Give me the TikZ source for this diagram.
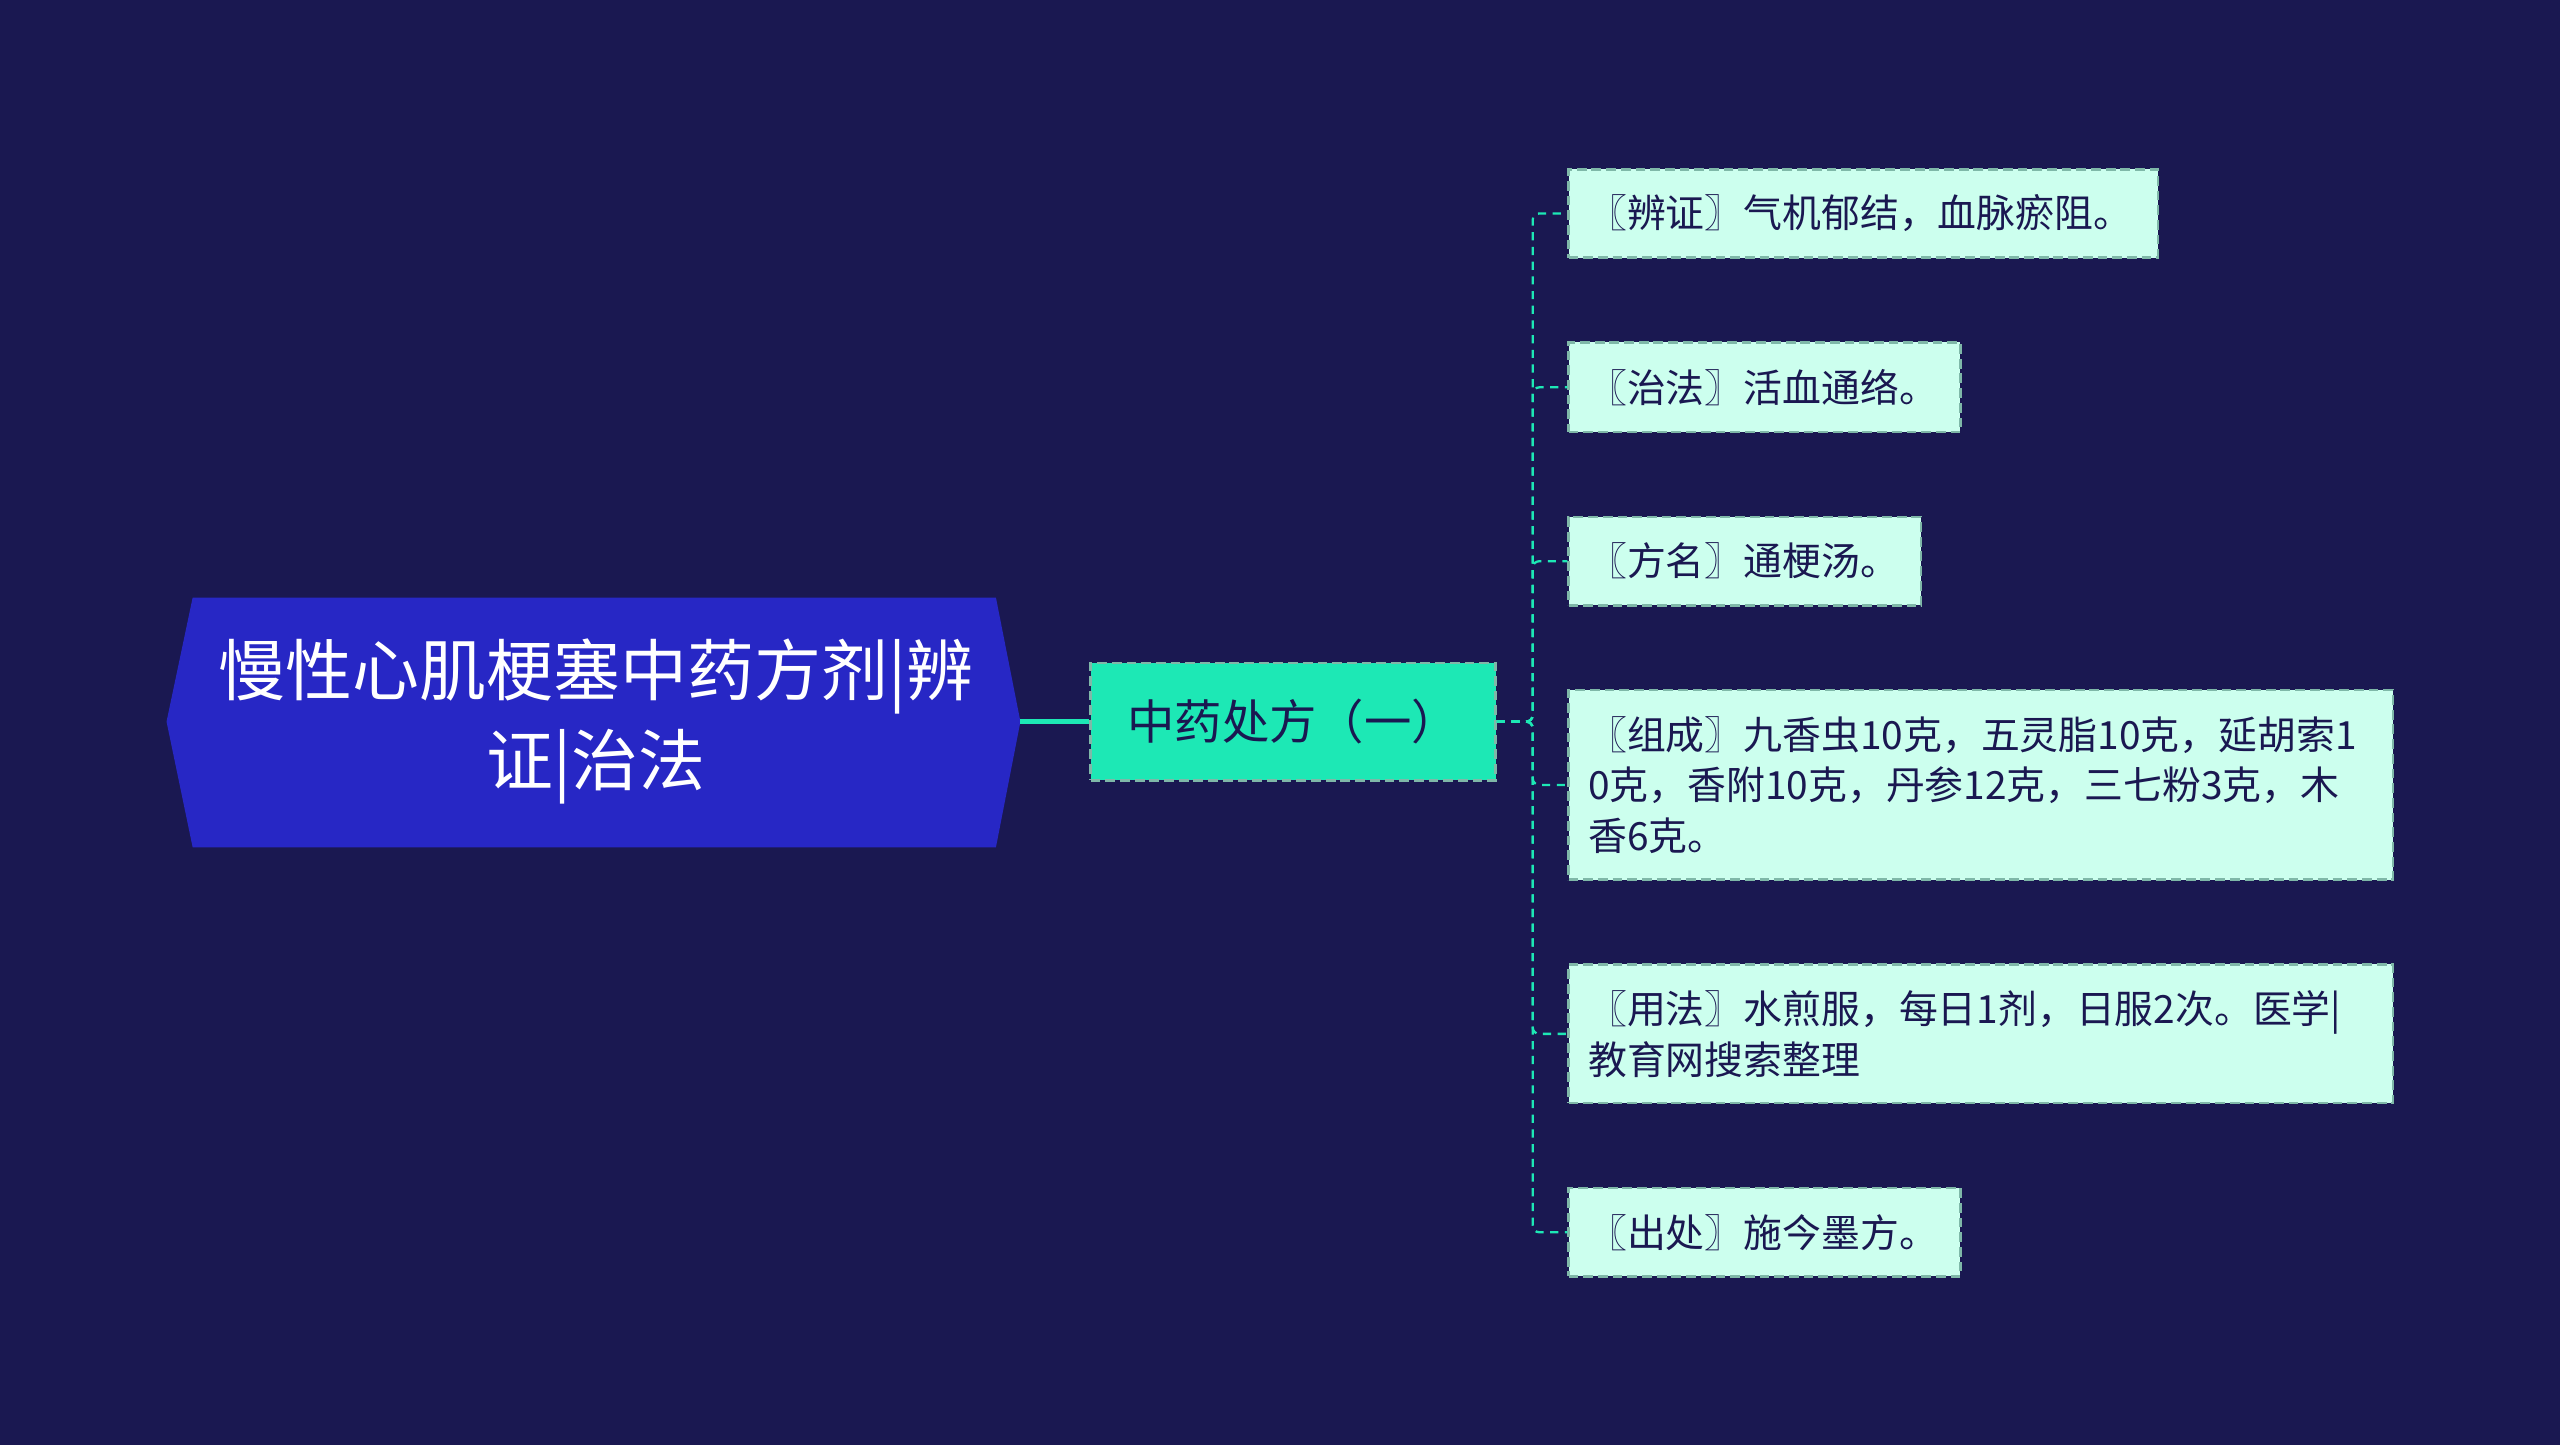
\documentclass[tikz,border=0pt]{standalone}
\usepackage{fontspec}
\setmainfont{Noto Sans CJK SC}
\begin{document}
\begin{tikzpicture}[x=1pt,y=-1pt,
  leaf/.style={draw=leafb,dash pattern=on 6pt off 3pt,line width=1.5pt,fill=leaff,anchor=north west,inner xsep=12pt,inner ysep=0pt,align=left,font=\fontsize{23.8}{31}\selectfont,text=navy},
  conn/.style={draw=teal2,dash pattern=on 5pt off 4pt,line width=1.4pt,rounded corners=4pt}]
\definecolor{bg}{HTML}{1A1851}
\definecolor{rootc}{HTML}{2727C5}
\definecolor{midc}{HTML}{1DE8B5}
\definecolor{leaff}{HTML}{CCFFEE}
\definecolor{leafb}{HTML}{7FB8A8}
\definecolor{teal2}{HTML}{1DE8B5}
\definecolor{navy}{HTML}{1A1851}
\fill[bg] (0,0) rectangle (1568,885);
\useasboundingbox (0,0) rectangle (1568,885);
\fill[rootc] (102,442) -- (118,366) -- (610,366) -- (625,442) -- (610,519) -- (118,519) -- cycle;
\node[text=white,align=center,font=\fontsize{41}{55}\selectfont] (root) at (365,442) {慢性心肌梗塞中药方剂|辨\\证|治法};
\coordinate (rootE) at (625,442);
\node[draw=leafb,dash pattern=on 6pt off 3pt,line width=1.5pt,fill=midc,minimum width=248pt,minimum height=72pt,text=navy,font=\fontsize{29}{34}\selectfont,inner sep=0pt] (mid) at (792,442) {中药处方（一）};
\draw[teal2,line width=3pt] (rootE) -- (mid.west);
\node[leaf,text width=337pt,minimum height=54pt] (l1) at (960,103) {〖辨证〗气机郁结，血脉瘀阻。};
\node[leaf,text width=216pt,minimum height=55pt] (l2) at (960,209) {〖治法〗活血通络。};
\node[leaf,text width=192pt,minimum height=54pt] (l3) at (960,316) {〖方名〗通梗汤。};
\node[leaf,text width=481pt,minimum height=116pt] (l4) at (960,422) {〖组成〗九香虫10克，五灵脂10克，延胡索1\\0克，香附10克，丹参12克，三七粉3克，木\\香6克。};
\node[leaf,text width=481pt,minimum height=85pt] (l5) at (960,590) {〖用法〗水煎服，每日1剂，日服2次。医学|\\教育网搜索整理};
\node[leaf,text width=216pt,minimum height=54pt] (l6) at (960,727) {〖出处〗施今墨方。};
\foreach \l in {l1,l2,l3,l4,l5,l6}
  \draw[conn] (mid.east) -- ++(22,0) |- (\l.west);
\end{tikzpicture}
\end{document}
